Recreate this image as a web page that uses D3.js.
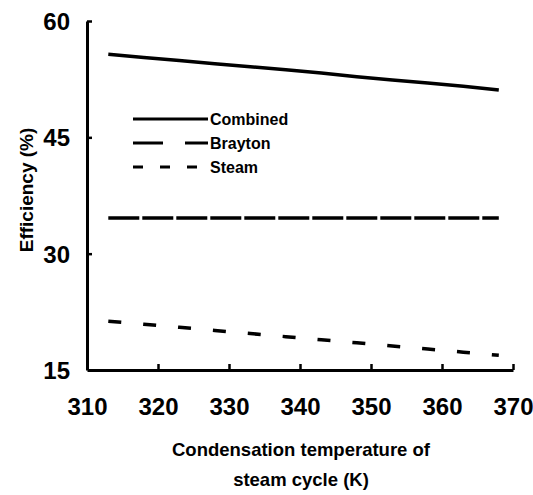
<!DOCTYPE html>
<html>
<head>
<meta charset="utf-8">
<script src="https://cdn.jsdelivr.net/npm/d3@7"></script>
<style>
  body { margin: 0; background: #fff; }
  text { font-family: "Liberation Sans", Arial, sans-serif; font-weight: bold; fill: #000; }
</style>
</head>
<body>
<div id="chart"></div>
<script>
// data
const temps = [313, 318, 323, 328, 333, 338, 343, 348, 353, 358, 363, 368];
const combined = [55.7, 55.3, 54.9, 54.5, 54.1, 53.7, 53.3, 52.8, 52.4, 52.0, 51.6, 51.1];
const brayton = [34.6, 34.6, 34.6, 34.6, 34.6, 34.6, 34.6, 34.6, 34.6, 34.6, 34.6, 34.6];
const steam = [21.3, 20.9, 20.5, 20.1, 19.7, 19.3, 18.9, 18.5, 18.1, 17.7, 17.3, 16.9];
const xTicks = [310, 320, 330, 340, 350, 360, 370];
const yTicks = [15, 30, 45, 60];

const series = [
  {name: "Combined", values: combined, dash: null},
  {name: "Brayton", values: brayton, dash: "31,3"},
  {name: "Steam", values: steam, dash: "13,22"}
];

const width = 533, height = 495;
const margin = {top: 21, right: 20, bottom: 125, left: 87};

const svg = d3.select("#chart").append("svg")
    .attr("width", width)
    .attr("height", height);

const x = d3.scaleLinear().domain([310, 370]).range([margin.left, width - margin.right]);
const y = d3.scaleLinear().domain([15, 60]).range([height - margin.bottom, margin.top]);

// axes
const xAxis = svg.append("g")
    .attr("transform", "translate(0," + y(15) + ")")
    .call(d3.axisBottom(x).tickValues(xTicks).tickSize(-6).tickPadding(28).tickSizeOuter(0));
const yAxis = svg.append("g")
    .attr("transform", "translate(" + x(310) + ",0)")
    .call(d3.axisLeft(y).tickValues(yTicks).tickSize(-5).tickPadding(17).tickSizeOuter(0));

[xAxis, yAxis].forEach(a => {
  a.select(".domain").attr("stroke", "#000").attr("stroke-width", 3);
  a.selectAll(".tick line").attr("stroke", "#000").attr("stroke-width", 2.5);
  a.selectAll(".tick text").style("font-size", "24px").style("font-family", "'Liberation Sans', Arial, sans-serif").style("font-weight", "bold");
});
xAxis.selectAll(".tick").filter(d => d === 310).select("line").remove();
yAxis.selectAll(".tick").filter(d => d === 15).select("line").remove();
yAxis.selectAll(".tick text").attr("dy", "0.36em");

// lines
const line = d3.line()
    .x((d, i) => x(temps[i]))
    .y(d => y(d));

svg.selectAll(".series")
  .data(series)
  .enter().append("path")
    .attr("class", "series")
    .attr("d", d => line(d.values))
    .attr("fill", "none")
    .attr("stroke", "#000")
    .attr("stroke-width", 3.5)
    .attr("stroke-dasharray", d => d.dash);

// legend
const legend = svg.append("g").attr("transform", "translate(133,119)");
const row = legend.selectAll("g")
  .data(series)
  .enter().append("g")
    .attr("transform", (d, i) => "translate(0," + (i * 24) + ")");
row.append("line")
    .attr("x1", 0).attr("x2", 75)
    .attr("stroke", "#000")
    .attr("stroke-width", 3)
    .attr("stroke-dasharray", d => d.name === "Brayton" ? "30,22" : (d.name === "Steam" ? "10,17" : null));
row.append("text")
    .attr("x", 77)
    .attr("dy", "0.36em")
    .style("font-size", "16px")
    .text(d => d.name);

// axis titles
svg.append("text")
    .attr("x", 301).attr("y", 456)
    .attr("text-anchor", "middle")
    .style("font-size", "18.5px")
    .text("Condensation temperature of");
svg.append("text")
    .attr("x", 301).attr("y", 486)
    .attr("text-anchor", "middle")
    .style("font-size", "18.5px")
    .text("steam cycle (K)");
svg.append("text")
    .attr("transform", "translate(33,190) rotate(-90)")
    .attr("text-anchor", "middle")
    .style("font-size", "19px")
    .text("Efficiency (%)");
</script>
</body>
</html>
